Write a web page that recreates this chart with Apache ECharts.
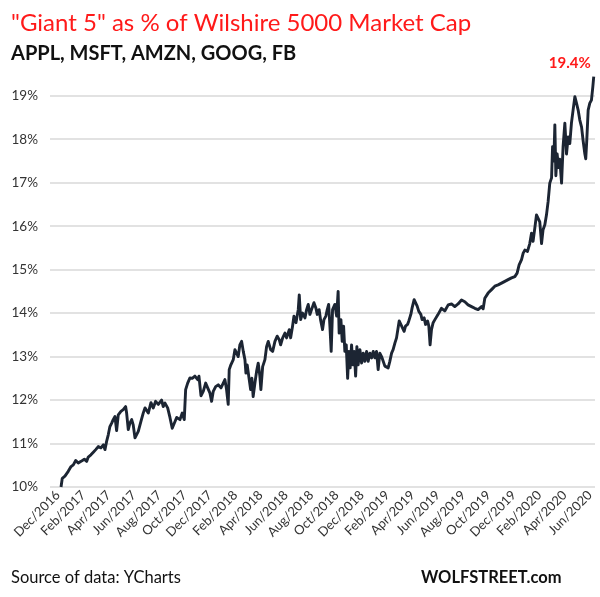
<!DOCTYPE html>
<html>
<head>
<meta charset="utf-8">
<script src="https://cdn.jsdelivr.net/npm/echarts@6/dist/echarts.min.js"></script>
<style>
html,body{margin:0;padding:0;background:#fff;}
#chart{width:600px;height:597px;}
</style>
</head>
<body>
<div id="chart"></div>
<script>
// Months elapsed since 1 Dec 2016
const monthsSinceDec2016 = [
0.24,0.34,0.55,0.81,1.03,1.21,1.40,1.60,1.82,2.08,2.27,2.39,2.60,2.79,2.98,3.18,3.39,3.58,3.71,3.84,
3.97,4.10,4.24,4.36,4.50,4.63,4.76,4.97,5.15,5.34,5.42,5.55,5.68,5.82,5.94,6.08,6.21,6.34,6.55,6.73,
6.87,7.13,7.34,7.52,7.71,7.92,8.18,8.31,8.45,8.66,8.84,9.02,9.37,9.63,9.81,9.97,10.08,10.24,10.42,10.60,
10.81,11.03,11.13,11.29,11.47,11.66,11.82,12.00,12.13,12.26,12.45,12.65,12.87,13.05,13.18,13.31,13.44,13.52,13.65,13.84,
13.97,14.10,14.23,14.36,14.50,14.63,14.76,14.84,14.94,15.10,15.21,15.31,15.41,15.55,15.68,15.81,15.94,16.02,16.16,16.34,
16.47,16.60,16.79,16.95,17.13,17.31,17.47,17.58,17.74,17.92,18.05,18.26,18.37,18.52,18.63,18.79,18.97,19.05,19.16,19.31,
19.50,19.63,19.76,19.89,20.02,20.21,20.36,20.47,20.62,20.73,20.89,21.00,21.15,21.26,21.37,21.47,21.57,21.68,21.86,22.00,
22.12,22.20,22.34,22.44,22.55,22.65,22.76,22.87,22.97,23.07,23.18,23.28,23.39,23.50,23.60,23.70,23.84,23.97,24.10,24.23,
24.37,24.49,24.63,24.76,24.89,25.02,25.15,25.28,25.41,25.55,25.68,25.81,25.94,26.07,26.20,26.34,26.46,26.60,26.73,26.86,
26.94,27.07,27.21,27.33,27.44,27.60,27.70,27.86,27.96,28.12,28.23,28.36,28.49,28.65,28.75,28.91,29.02,29.18,29.28,29.38,
29.49,29.62,29.76,29.99,30.28,30.54,30.81,31.07,31.33,31.59,31.86,32.12,32.38,32.65,32.91,33.17,33.44,33.57,33.70,33.96,
34.23,34.49,34.75,35.02,35.28,35.54,35.81,36.07,36.25,36.41,36.60,36.73,36.86,37.07,37.25,37.39,37.51,37.65,37.78,37.91,
38.04,38.18,38.30,38.44,38.57,38.70,38.83,38.97,39.05,39.15,39.23,39.31,39.41,39.52,39.62,39.76,39.88,40.02,40.15,40.28,
40.41,40.54,40.67,40.81,40.94,41.07,41.20,41.34,41.46,41.60,41.67,41.75,41.86,41.99,42.12,42.23,42.30
];
// "Giant 5" share of Wilshire 5000 market cap, %
const giant5Share = [
10.00,10.20,10.25,10.36,10.47,10.51,10.61,10.55,10.59,10.64,10.59,10.69,10.74,10.80,10.86,10.93,10.90,10.97,10.86,11.05,
11.20,11.39,11.47,11.55,11.62,11.30,11.66,11.74,11.78,11.85,11.70,11.32,11.47,11.55,11.43,11.13,11.09,11.28,11.51,11.70,
11.82,11.70,11.94,11.82,11.97,11.90,12.00,11.85,11.93,11.82,11.60,11.35,11.60,11.55,11.70,11.55,12.24,12.39,12.51,12.50,
12.55,12.47,12.55,12.10,12.20,12.39,12.28,12.16,11.97,12.20,12.31,12.35,12.28,12.39,12.47,12.24,11.90,12.70,12.81,12.93,
13.16,13.08,13.00,13.27,13.35,13.12,12.93,12.62,12.81,12.47,12.24,12.50,12.08,12.39,12.66,12.85,12.55,12.24,12.77,12.93,
13.23,13.35,13.16,13.12,13.35,13.47,13.39,13.27,13.43,13.54,13.43,13.62,13.43,13.70,13.93,13.78,14.08,14.42,13.85,14.00,
13.89,14.08,14.20,13.97,14.08,14.24,14.12,13.97,14.08,13.85,13.62,13.85,13.93,14.08,14.20,13.70,13.12,14.08,14.20,13.93,
14.50,13.54,13.85,13.35,13.70,13.12,13.27,12.50,13.12,12.74,13.27,12.81,13.12,12.55,13.23,12.81,13.16,12.85,13.08,12.89,
13.12,12.89,13.08,12.97,13.12,12.97,13.12,12.70,13.08,13.00,12.97,12.78,12.78,12.74,12.89,13.08,13.16,13.31,13.43,13.47,
13.82,13.74,13.78,13.58,13.70,13.74,13.82,13.97,14.12,14.31,14.24,14.16,14.04,13.97,13.85,13.89,13.74,13.82,13.70,13.27,
13.62,13.78,13.85,13.96,14.11,14.05,14.19,14.21,14.15,14.21,14.30,14.26,14.19,14.15,14.11,14.08,14.15,14.10,14.34,14.46,
14.54,14.62,14.65,14.69,14.73,14.77,14.81,14.84,14.92,15.11,15.23,15.38,15.45,15.42,15.60,15.84,15.65,15.96,16.26,16.18,
16.10,15.60,15.92,16.03,16.26,16.57,16.99,17.11,17.83,17.50,18.33,17.16,17.66,17.35,17.54,16.99,17.83,18.37,17.66,18.05,
17.90,18.37,18.67,18.98,18.83,18.67,18.44,18.28,17.97,17.66,17.55,17.97,18.67,18.83,18.90,19.21,19.44
];
const tickMonths = [0,2,4,6,8,10,12,14,16,18,20,22,24,26,28,30,32,34,36,38,40,42];
const tickLabels = ['Dec/2016','Feb/2017','Apr/2017','Jun/2017','Aug/2017','Oct/2017','Dec/2017','Feb/2018',
  'Apr/2018','Jun/2018','Aug/2018','Oct/2018','Dec/2018','Feb/2019','Apr/2019','Jun/2019','Aug/2019','Oct/2019',
  'Dec/2019','Feb/2020','Apr/2020','Jun/2020'];
const lastLabel = '19.4%';

const seriesData = monthsSinceDec2016.map((t, i) => [t, giant5Share[i]]);
const lastPoint = seriesData[seriesData.length - 1];

const FONT = 'Lato, "Open Sans", sans-serif';
const chart = echarts.init(document.getElementById('chart'), null, {renderer: 'canvas'});
chart.setOption({
  animation: false,
  backgroundColor: '#ffffff',
  title: [
    {text: '"Giant 5" as % of Wilshire 5000 Market Cap', left: 6, top: 6,
     textStyle: {color: '#ff1a1a', fontSize: 24, fontWeight: 'normal', fontFamily: FONT}},
    {text: 'APPL, MSFT, AMZN, GOOG, FB', left: 6, top: 39,
     textStyle: {color: '#111', fontSize: 20, fontWeight: 'bold', fontFamily: FONT}},
    {text: 'Source of data: YCharts', left: 6, top: 564,
     textStyle: {color: '#111', fontSize: 16.5, fontWeight: 'normal', fontFamily: FONT}},
    {text: 'WOLFSTREET.com', left: 416, top: 564,
     textStyle: {color: '#111', fontSize: 16.5, fontWeight: 'bold', fontFamily: FONT}}
  ],
  grid: {left: 50, right: 5, top: 74, bottom: 110, containLabel: false},
  xAxis: {
    type: 'value', min: -0.63, max: 42.4,
    axisLine: {show: false}, axisTick: {show: false}, splitLine: {show: false},
    axisLabel: {
      customValues: tickMonths, rotate: 45, margin: 6,
      color: '#333', fontSize: 13, fontFamily: FONT,
      formatter: v => tickLabels[tickMonths.indexOf(Math.round(v))] || ''
    }
  },
  yAxis: {
    type: 'value', min: 10, max: 19.5, interval: 1,
    axisLine: {show: false}, axisTick: {show: false},
    splitLine: {show: true, showMaxLine: false, lineStyle: {color: '#d9d9d9', width: 1.5}},
    axisLabel: {
      margin: 12, color: '#333', fontSize: 13.5, fontFamily: FONT,
      formatter: v => (Math.abs(v - Math.round(v)) < 1e-6 ? v + '%' : '')
    }
  },
  series: [{
    type: 'line', data: seriesData, showSymbol: false, symbol: 'none',
    lineStyle: {color: '#1c2533', width: 2.9, join: 'round'}, itemStyle: {color: '#1c2533'},
    markPoint: {
      symbol: 'circle', symbolSize: 0,
      label: {show: true, formatter: lastLabel, color: '#ff1a1a', fontWeight: 'bold',
              fontSize: 15, fontFamily: FONT, offset: [-24, -13]},
      data: [{coord: lastPoint}]
    }
  }]
});
</script>
</body>
</html>
